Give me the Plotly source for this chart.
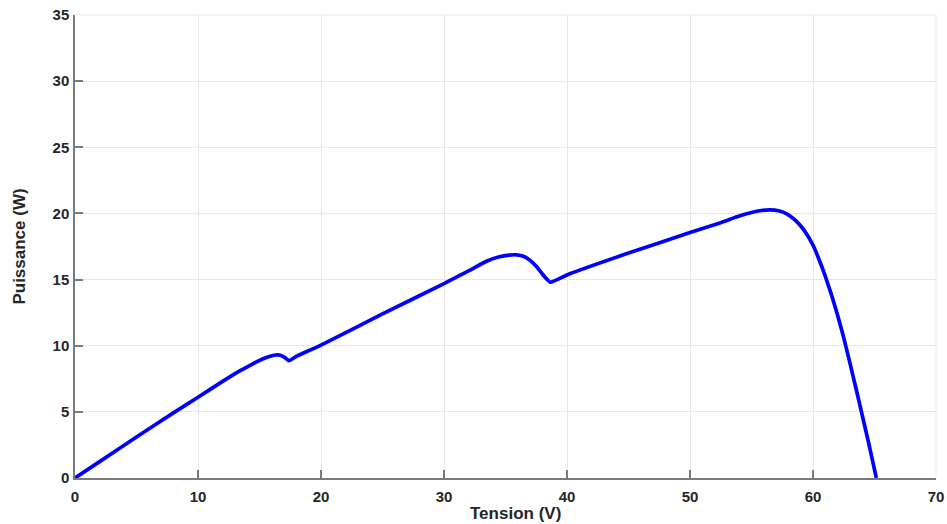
import plotly.graph_objects as go

tension = [0, 2, 5, 8, 10, 12, 13.5, 14.5, 15.2, 15.8, 16.3, 16.7, 17.1, 17.4, 18, 20, 25, 30, 32, 33.5, 34.5,
           35.3, 35.9, 36.5, 37.0, 37.5, 38.1, 38.65, 40, 45, 50, 52.5, 54.0, 55.0, 55.8, 56.5,
           57.2, 57.9, 58.6, 59.3, 60, 60.5, 61, 61.5, 62, 62.5, 63, 63.5, 64, 64.5, 65.15]
puissance = [0, 1.24, 3.1, 4.92, 6.1, 7.3, 8.15, 8.65, 8.98, 9.19, 9.3, 9.28, 9.08, 8.87, 9.2, 10.05, 12.4, 14.7, 15.65, 16.4, 16.72,
             16.85, 16.87, 16.75, 16.45, 16.0, 15.3, 14.8, 15.35, 17.0, 18.55, 19.3, 19.8, 20.07, 20.22, 20.27,
             20.2, 19.95, 19.45, 18.7, 17.6, 16.5, 15.25, 13.85, 12.3, 10.6, 8.7, 6.75, 4.75, 2.75, 0]

x_ticks = [0, 10, 20, 30, 40, 50, 60, 70]
y_ticks = [0, 5, 10, 15, 20, 25, 30, 35]

fig = go.Figure()
fig.add_trace(go.Scatter(x=tension, y=puissance, mode="lines",
                         line=dict(color="#0000ff", width=3.7, shape="spline", smoothing=0.5),
                         showlegend=False, hoverinfo="x+y"))

font_family = "Liberation Sans, Arial, sans-serif"
grid_col = "#e8e8e8"
fig.update_layout(
    width=947, height=524,
    margin=dict(l=75, r=11, t=15, b=46),
    paper_bgcolor="white", plot_bgcolor="white",
    font=dict(family=font_family, color="#262626"),
)
fig.update_xaxes(
    range=[0, 70], tickvals=x_ticks, ticktext=[str(v) for v in x_ticks],
    showgrid=True, gridcolor=grid_col, gridwidth=1,
    showline=True, linecolor="#7a7a7a", linewidth=1.5,
    ticks="inside", ticklen=8, tickcolor="#7a7a7a", tickwidth=1.5,
    tickfont=dict(size=15, family=font_family, color="#262626", weight="bold"),
    ticklabelstandoff=4, ticklabeloverflow="allow",
    zeroline=False, automargin=False,
)
fig.update_yaxes(
    range=[0, 35], tickvals=y_ticks, ticktext=[str(v) for v in y_ticks],
    showgrid=True, gridcolor=grid_col, gridwidth=1,
    showline=True, linecolor="#7a7a7a", linewidth=1.5,
    ticks="inside", ticklen=8, tickcolor="#7a7a7a", tickwidth=1.5,
    tickfont=dict(size=15, family=font_family, color="#262626", weight="bold"),
    ticklabelstandoff=1, ticklabeloverflow="allow",
    title=dict(text="<b>Puissance (W)</b>", font=dict(size=17, color="#262626"), standoff=23),
    zeroline=False, automargin=False,
)
# light frame on the top and right edges (grid lines at 35 and 70)
fig.add_shape(type="line", xref="paper", yref="paper", x0=0, x1=1, y0=1, y1=1,
              line=dict(color=grid_col, width=1), layer="below")
fig.add_shape(type="line", xref="paper", yref="paper", x0=1, x1=1, y0=0, y1=1,
              line=dict(color=grid_col, width=1), layer="below")
fig.add_annotation(text="<b>Tension (V)</b>", xref="paper", yref="paper",
                   x=0.512, y=0, yshift=-35, xanchor="center", yanchor="middle",
                   showarrow=False, font=dict(size=17, color="#262626", family=font_family))

fig.write_html("out.html", config={"displayModeBar": False},
               post_script="document.body.style.margin='0';")
